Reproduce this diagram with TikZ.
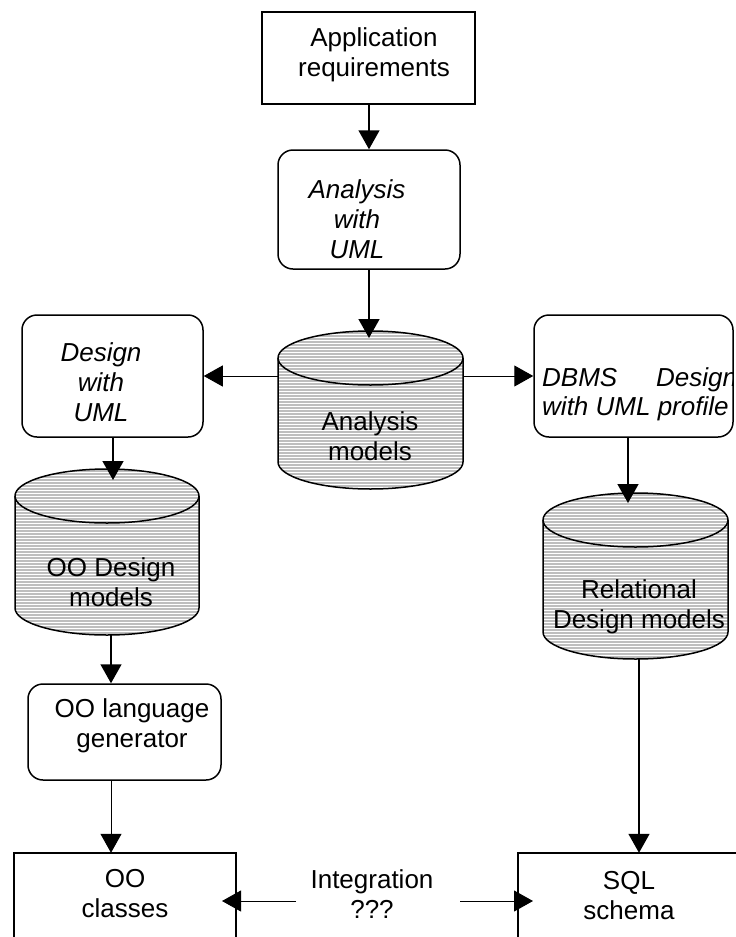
\documentclass[tikz,border=0pt]{standalone}
\usepackage{fontspec}
\setmainfont{Liberation Sans}
\usetikzlibrary{arrows.meta,calc}
\definecolor{cylgray}{RGB}{190,190,190}
\newcommand\mycyl[6]{% name, cx, rx, yt, yb, ry
  \pgfmathsetmacro\cxL{#2-#3}\pgfmathsetmacro\cxR{#2+#3}
  \pgfmathsetmacro\ytop{#4-#6}\pgfmathsetmacro\ybot{#5+#6}
  \pgfmathsetmacro\ymid{(\ytop+\ybot)/2}\pgfmathsetmacro\hh{\ybot-\ytop}
  \pgfmathsetmacro\ww{2*#3}
  \node[minimum width=\ww pt, minimum height=\hh pt, inner sep=0pt, draw=none] (#1) at (#2,\ymid) {};
  \begin{scope}
    \clip (\cxL,#4) arc (180:0:#3pt and #6pt) -- (\cxR,#5) arc (0:-180:#3pt and #6pt) -- cycle;
    \fill[cylgray] (\cxL,\ytop) rectangle (\cxR,\ybot);
    \pgfmathsetmacro\ytopb{\ytop+3}
    \foreach \yy in {\ytop,\ytopb,...,\ybot} \draw[white,line width=0.9pt] (\cxL,\yy) -- (\cxR,\yy);
  \end{scope}
  \draw[line width=1.5pt] (\cxL,#4) arc (180:-180:#3pt and #6pt);
  \draw[line width=1.5pt] (\cxL,#4) -- (\cxL,#5) arc (180:360:#3pt and #6pt) -- (\cxR,#4);
}
\begin{document}
\begin{tikzpicture}[x=1pt,y=-1pt,
  every node/.style={font=\fontsize{26}{30}\selectfont, inner sep=0pt},
  sharpbox/.style={draw, line width=1.5pt, inner sep=0pt},
  roundbox/.style={draw, line width=1.5pt, rounded corners=15pt, inner sep=0pt},
  openbox/.style={draw=none, inner sep=0pt},
  txt/.style={align=center},
  itxt/.style={align=center, font=\fontsize{26}{30}\selectfont\itshape},
  arr/.style={-{Triangle[length=19pt,width=21pt]}, line width=1.5pt},
  tarr/.style={-{Triangle[length=19pt,width=21pt]}, line width=1pt}]
\useasboundingbox (0,0) rectangle (736,937);

% boxes
\node[sharpbox, minimum width=213pt, minimum height=92pt] (app) at (368.5,58) {};
\node[roundbox, minimum width=182pt, minimum height=119pt] (anabox) at (369,209.5) {};
\node[roundbox, minimum width=181pt, minimum height=122pt] (desbox) at (112.5,376) {};
\node[roundbox, minimum width=199pt, minimum height=122pt] (dbmsbox) at (633.5,376) {};
\node[roundbox, minimum width=193pt, minimum height=96pt] (genbox) at (124.5,732) {};
\node[openbox, minimum width=222pt, minimum height=84pt] (oocls) at (125,895) {};
\node[openbox, minimum width=230pt, minimum height=84pt] (sql) at (633,895) {};
\draw[line width=1.5pt] (oocls.south west) -- (oocls.north west) -- (oocls.north east) -- (oocls.south east);
\draw[line width=1.5pt] (sql.south west) -- (sql.north west) -- (sql.north east);

% cylinders
\mycyl{anacyl}{370.5}{92.5}{358}{462}{27}
\mycyl{oocyl}{107}{92}{496}{608}{27}
\mycyl{relcyl}{635.5}{92.5}{520}{632}{27}

% texts
\node[txt] (tapp) at (374,55) {Application\\requirements};
\node[itxt] (tana) at (357,219) {Analysis\\with\\UML};
\node[itxt] (tdes) at (101,382) {Design\\with\\UML};
\node[txt] (tanam) at (370,436) {Analysis\\models};
\node[txt] (toodm) at (111,582) {OO Design\\models};
\node[txt] (treldm) at (639,607) {Relational\\Design models};
\node[txt] (tgen) at (132,726) {OO language\\generator};
\node[txt] (tcls) at (125,894) {OO\\classes};
\node[txt] (tint) at (372,894) {Integration\\???};
\node[txt] (tsql) at (629,896) {SQL\\schema};
\begin{scope}
  \clip[rounded corners=15pt] (dbmsbox.south west) rectangle (dbmsbox.north east);
  \node[itxt, anchor=base west] (tdbms) at (542,386) {DBMS};
  \node[itxt, anchor=base west] (tdbdes) at (656,386) {Design};
  \node[itxt, anchor=base west] (tdbwith) at (542,415) {with UML profile};
\end{scope}

% connectors
\coordinate (c1) at (369,338);
\coordinate (c2) at (113,480);
\coordinate (c3) at (628,503);
\coordinate (c4) at (222,901);
\coordinate (c5) at (533,901);
\coordinate (c6) at (296,901);
\coordinate (c7) at (460,901);
\draw[arr] (app.south -| c1) -- (anabox.north -| c1);
\draw[arr] (anabox.south -| c1) -- (c1);
\draw[tarr] (anacyl.west |- desbox.east) -- (desbox.east);
\draw[tarr] (anacyl.east |- dbmsbox.west) -- (dbmsbox.west);
\draw[arr] (desbox.south -| c2) -- (c2);
\draw[arr] (oocyl.south -| 111,0) -- (genbox.north -| 111,0);
\draw[tarr] (genbox.south -| 111,0) -- (oocls.north -| 111,0);
\draw[arr] (dbmsbox.south -| c3) -- (c3);
\draw[arr] (relcyl.south -| 639,0) -- (sql.north -| 639,0);
\draw[tarr] (c6) -- (c4);
\draw[tarr] (c7) -- (c5);
\end{tikzpicture}
\end{document}
